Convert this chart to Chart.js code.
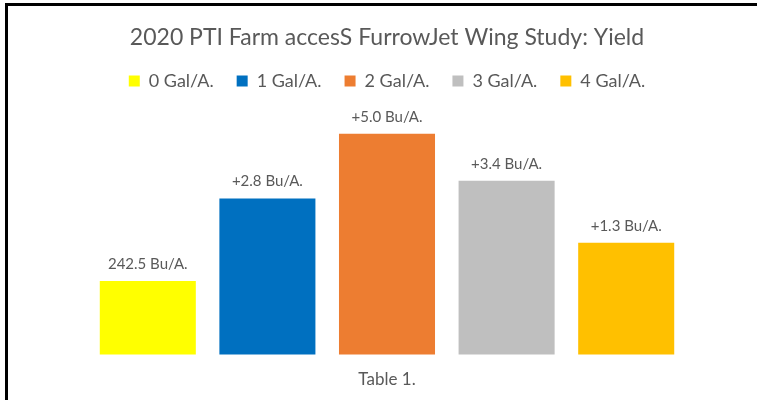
<!DOCTYPE html>
<html>
<head>
<meta charset="utf-8">
<script src="https://cdn.jsdelivr.net/npm/chart.js@4/dist/chart.umd.min.js"></script>
<style>
  html, body { margin: 0; padding: 0; background: #fff; }
  #wrap { position: relative; width: 757px; height: 400px; overflow: hidden; }
  #frame { position: absolute; left: 5px; top: 3px; width: 800px; height: 420px;
           border-left: 3px solid #000; border-top: 3px solid #000; pointer-events: none; }
</style>
</head>
<body>
<div id="wrap">
  <canvas id="yieldChart" width="757" height="400"></canvas>
  <div id="frame"></div>
</div>
<script>
const categories = ['Table 1.'];
const seriesNames = ['0 Gal/A.', '1 Gal/A.', '2 Gal/A.', '3 Gal/A.', '4 Gal/A.'];
const yieldValues = [242.5, 245.3, 247.5, 245.9, 243.8];
const barLabels = ['242.5 Bu/A.', '+2.8 Bu/A.', '+5.0 Bu/A.', '+3.4 Bu/A.', '+1.3 Bu/A.'];
const barColors = ['#FFFF00', '#0070C0', '#ED7D31', '#BFBFBF', '#FFC000'];

const FONT = 'Lato, "Open Sans", sans-serif';
const GREY = '#595959';

// value labels above each bar
const barLabelPlugin = {
  id: 'barLabels',
  afterDatasetsDraw(chart) {
    const ctx = chart.ctx;
    ctx.save();
    ctx.font = '15px ' + FONT;
    ctx.fillStyle = GREY;
    ctx.textAlign = 'center';
    ctx.textBaseline = 'middle';
    chart.data.datasets.forEach((ds, i) => {
      chart.getDatasetMeta(i).data.forEach(bar => {
        ctx.fillText(barLabels[i], bar.x, bar.y - 17);
      });
    });
    ctx.restore();
  }
};

// extra space between legend and bars
const legendSpacer = {
  id: 'legendSpacer',
  beforeInit(chart) {
    const fit = chart.legend.fit;
    chart.legend.fit = function () {
      fit.bind(chart.legend)();
      this.height += 19;
    };
  }
};

new Chart(document.getElementById('yieldChart'), {
  type: 'bar',
  data: {
    labels: categories,
    datasets: seriesNames.map((name, i) => ({
      label: name,
      data: [yieldValues[i]],
      backgroundColor: barColors[i],
      borderWidth: 0
    }))
  },
  options: {
    responsive: false,
    animation: false,
    layout: { padding: { left: 88, right: 71, top: 0, bottom: -5 } },
    datasets: { bar: { categoryPercentage: 1, barPercentage: 0.803 } },
    plugins: {
      title: {
        display: true,
        text: '2020 PTI Farm accesS FurrowJet Wing Study: Yield',
        color: GREY,
        font: { family: FONT, size: 23, weight: 'normal', lineHeight: 1 },
        padding: { top: 26, bottom: 0 }
      },
      legend: {
        display: true,
        labels: {
          color: GREY,
          font: { family: FONT, size: 18 },
          boxWidth: 11,
          boxHeight: 11,
          padding: 23
        }
      },
      tooltip: { enabled: false }
    },
    scales: {
      x: {
        grid: { display: false, drawTicks: false },
        border: { display: false },
        ticks: { color: GREY, font: { family: FONT, size: 17 }, padding: 15 }
      },
      y: {
        display: false,
        min: 240,
        max: 248
      }
    }
  },
  plugins: [barLabelPlugin, legendSpacer]
});
</script>
</body>
</html>
